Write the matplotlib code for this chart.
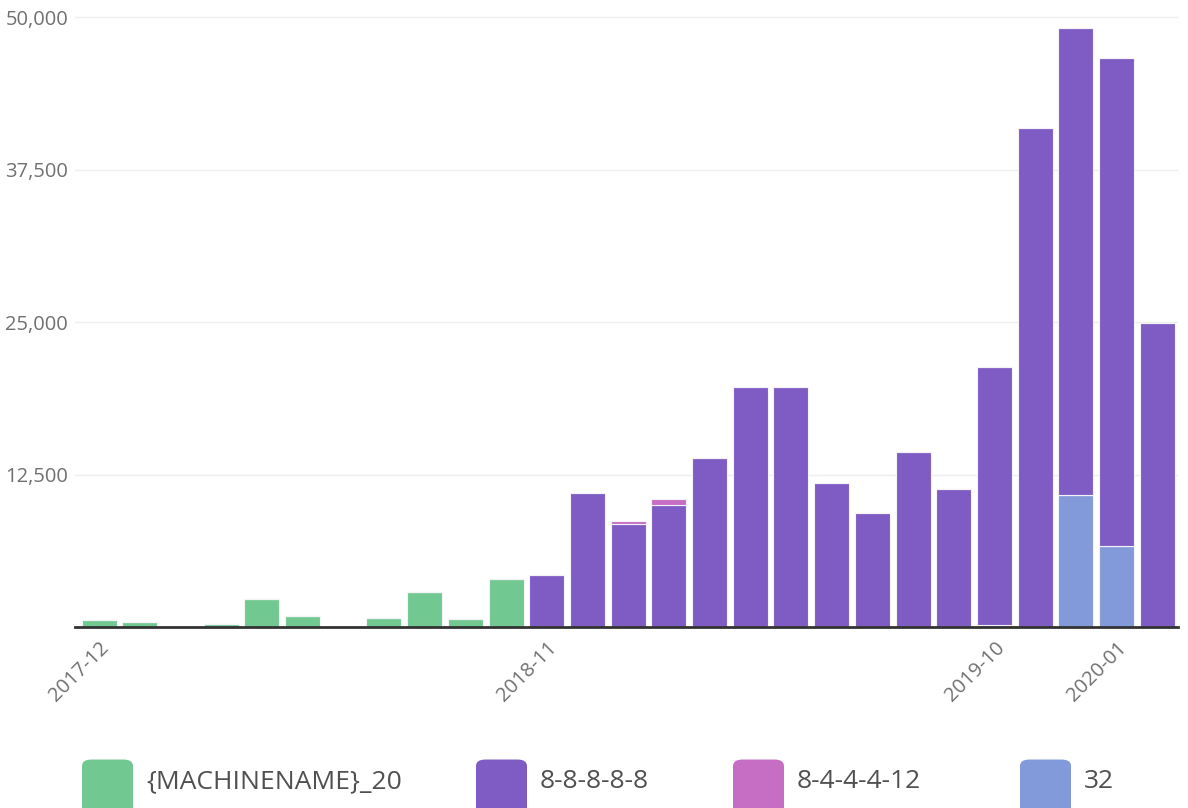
import numpy as np
import matplotlib
matplotlib.use("Agg")
import matplotlib.pyplot as plt
from matplotlib.patches import FancyBboxPatch

plt.rcParams['font.family'] = ['Open Sans', 'DejaVu Sans']

# monthly buckets, 2017-12 .. 2020-02
months = ['2017-12', '2018-01', '2018-02', '2018-03', '2018-04', '2018-05',
          '2018-06', '2018-07', '2018-08', '2018-09', '2018-10', '2018-11',
          '2018-12', '2019-01', '2019-02', '2019-03', '2019-04', '2019-05',
          '2019-06', '2019-07', '2019-08', '2019-09', '2019-10', '2019-11',
          '2019-12', '2020-01', '2020-02']

series_names = ['{MACHINENAME}_20', '8-8-8-8-8', '8-4-4-4-12', '32']
series_colors = ['#72C891', '#7E5CC4', '#C66EC4', '#829ADA']

machinename_20 = [550, 450, 0, 250, 2300, 900, 0, 760, 2900, 650, 3900, 0,
                  0, 0, 0, 0, 0, 0, 0, 0, 0, 0, 0, 0, 0, 0, 0]
dashed_88888 = [0, 0, 0, 0, 0, 0, 0, 0, 0, 0, 0, 4250,
                11000, 8450, 10000, 13850, 19650, 19700, 11830, 9370, 14350,
                11290, 21100, 40900, 38300, 40000, 24950]
dashed_844412 = [0, 0, 0, 0, 0, 0, 0, 0, 0, 0, 0, 0,
                 0, 200, 500, 0, 0, 0, 0, 0, 0, 0, 0, 0, 0, 0, 0]
plain_32 = [0, 0, 0, 0, 0, 0, 0, 0, 0, 0, 0, 0,
            0, 0, 0, 0, 0, 0, 0, 0, 0, 0, 200, 0, 10800, 6640, 0]

shown_ticks = ['2017-12', '2018-11', '2019-10', '2020-01']
y_ticks = [0, 12500, 25000, 37500, 50000]

# stacking order: blue at the bottom, then green, purple, pink on top
stack = [(plain_32, 3), (machinename_20, 0), (dashed_88888, 1), (dashed_844412, 2)]

fig = plt.figure(figsize=(11.88, 8.08), dpi=100)
ax = fig.add_axes([75 / 1188, 1 - 627 / 808, 1103 / 1188, 615 / 808])

x = np.arange(len(months))
bottom = np.zeros(len(months))
for vals, ci in stack:
    vals = np.array(vals, dtype=float)
    ax.bar(x, vals, bottom=bottom, width=0.86, color=series_colors[ci],
           edgecolor='#f4f4f8', linewidth=0.8, zorder=3)
    bottom += vals

ax.set_xlim(-0.59, 26.51)
ax.set_ylim(0, 50410)

ax.set_yticks(y_ticks[1:])
ax.set_yticklabels([f"{v:,}" for v in y_ticks[1:]], fontsize=14.5, color='#707070')
ax.yaxis.grid(True, color='#eeeeee', linewidth=1, zorder=0)
ax.tick_params(axis='y', length=0, pad=5)

ax.set_xticks([months.index(m) for m in shown_ticks])
ax.set_xticklabels(shown_ticks, rotation=45, ha='right', va='top',
                   rotation_mode='anchor', fontsize=14.5, color='#707070')
ax.tick_params(axis='x', length=0, pad=8)

for s in ['top', 'right', 'left']:
    ax.spines[s].set_visible(False)
ax.spines['bottom'].set_color('#333333')
ax.spines['bottom'].set_linewidth(2)
ax.spines['bottom'].set_zorder(4)

# legend along the bottom edge
patch_x = [82, 476, 733, 1020]
for name, col, px in zip(series_names, series_colors, patch_x):
    p = FancyBboxPatch((px / 1188, -0.02), 51 / 1188, 0.08,
                       boxstyle="round,pad=0,rounding_size=0.008",
                       transform=fig.transFigure, facecolor=col,
                       edgecolor='none')
    fig.patches.append(p)
    fig.text((px + 64) / 1188, 1 - 782 / 808, name, fontsize=19,
             color='#505050', va='center', ha='left')

fig.savefig('out.png', dpi=100)
